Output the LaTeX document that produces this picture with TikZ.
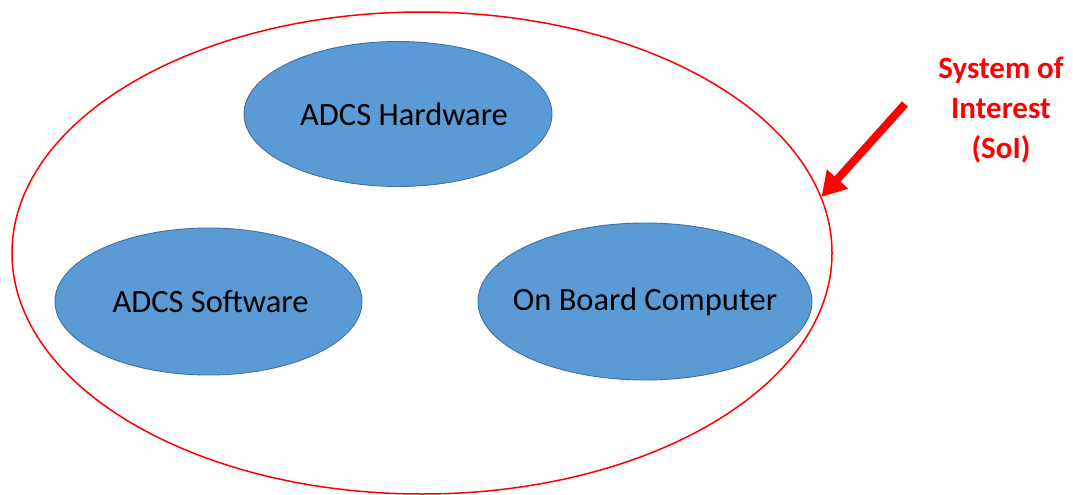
\documentclass[tikz,border=0pt]{standalone}
\usepackage{fontspec}
\setmainfont{Carlito}
\usetikzlibrary{shapes.geometric,arrows.meta}
\definecolor{partfill}{RGB}{91,155,213}
\definecolor{partedge}{RGB}{65,113,156}
\definecolor{soired}{RGB}{255,0,0}
\tikzset{
  part/.style={ellipse, fill=partfill, draw=partedge, line width=0.9pt, inner sep=0pt,
    font=\fontsize{32.5}{38}\selectfont, text=black},
  boundary/.style={ellipse, draw=soired, line width=1.5pt, inner sep=0pt},
  soilabel/.style={align=center, text=soired, font=\fontsize{31}{40}\selectfont\bfseries},
  pointer/.style={draw=soired, line width=8pt, -{Triangle[width=27pt,length=24pt]}}
}
\begin{document}
\begin{tikzpicture}[x=1pt,y=-1pt]
  \useasboundingbox (0,0) rectangle (1073,495);
  % system boundary
  \node[boundary, minimum width=820pt, minimum height=482pt] (soi) at (422,253) {};
  % subsystems
  \node[part, minimum width=308pt, minimum height=145pt] (hw) at (398,114)
    {\makebox[0pt]{\kern12pt ADCS Hardware}};
  \node[part, minimum width=307pt, minimum height=147pt] (sw) at (208.5,301.5)
    {\makebox[0pt]{\kern4pt\raisebox{-5pt}{ADCS Software}}};
  \node[part, minimum width=334pt, minimum height=157pt] (obc) at (645,301.5)
    {\makebox[0pt]{\raisebox{4pt}{On Board Computer}}};
  % label and pointer
  \node[soilabel] (lbl) at (1001,110) {System of\\Interest\\(SoI)};
  \coordinate (tail) at (905,104);
  \draw[pointer] (tail) -- (soi.8.5);
\end{tikzpicture}
\end{document}
